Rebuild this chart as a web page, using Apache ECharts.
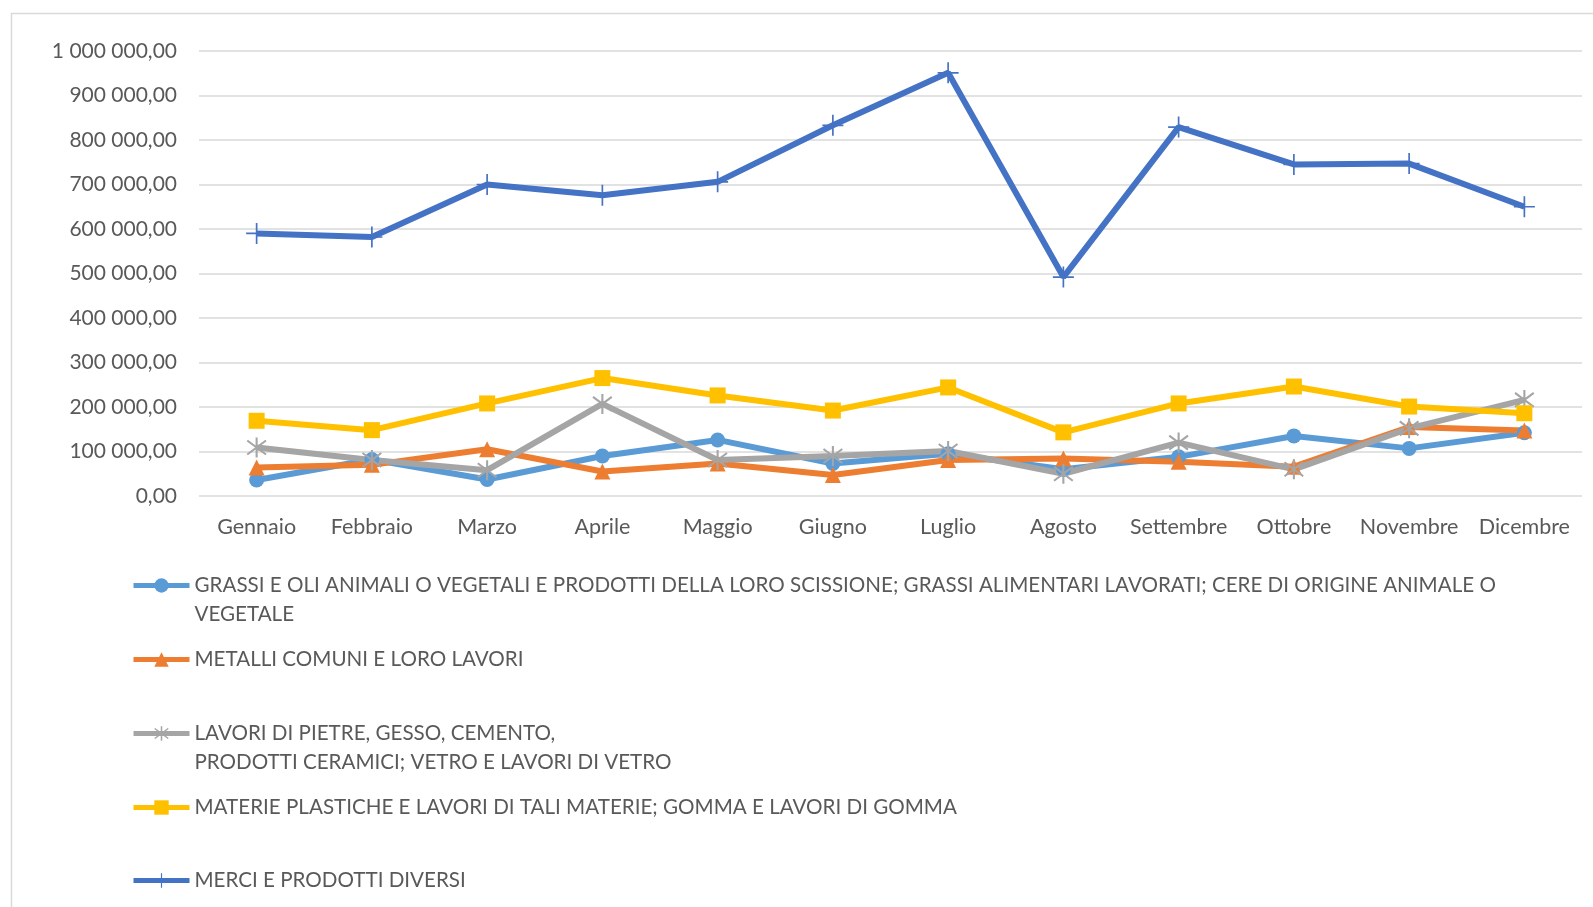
<!DOCTYPE html>
<html>
<head>
<meta charset="utf-8">
<script src="https://cdn.jsdelivr.net/npm/echarts@6/dist/echarts.min.js"></script>
<style>
  html, body { margin: 0; padding: 0; background: #fff; }
  #chart { width: 1593px; height: 907px; }
</style>
</head>
<body>
<div id="chart"></div>
<script>
// mesi sull'asse x
const mesi = ["Gennaio", "Febbraio", "Marzo", "Aprile", "Maggio", "Giugno",
  "Luglio", "Agosto", "Settembre", "Ottobre", "Novembre", "Dicembre"];

// nomi delle serie (ordine della legenda)
const nomeGrassi = "GRASSI E OLI ANIMALI O VEGETALI E PRODOTTI DELLA LORO SCISSIONE; GRASSI ALIMENTARI LAVORATI; CERE DI ORIGINE ANIMALE O VEGETALE";
const nomeMetalli = "METALLI COMUNI E LORO LAVORI";
const nomePietre = "LAVORI DI PIETRE, GESSO, CEMENTO, PRODOTTI CERAMICI; VETRO E LAVORI DI VETRO";
const nomePlastiche = "MATERIE PLASTICHE E LAVORI DI TALI MATERIE; GOMMA E LAVORI DI GOMMA";
const nomeMerci = "MERCI E PRODOTTI DIVERSI";

// valori
const grassi = [36000, 82000, 37000, 90000, 126000, 73000, 95000, 60000, 88000, 135000, 107000, 142000];
const metalli = [64000, 70000, 105000, 55000, 73000, 47000, 81000, 84000, 77000, 66000, 155000, 147000];
const pietre = [109000, 81000, 58000, 207000, 81000, 90000, 101000, 50000, 120000, 60000, 152000, 216000];
const plastiche = [169000, 148000, 208000, 265000, 226000, 192000, 244000, 143000, 208000, 246000, 201000, 186000];
const merci = [590000, 582000, 700000, 676000, 706000, 833000, 951000, 492000, 829000, 745000, 747000, 650000];

// tacche asse y
const yMin = 0;
const yMax = 1000000;
const yStep = 100000;

const font = "Lato";
const grigioTesto = "#595959";

// simboli stile Excel
const simboloStella = "path://M9,0 L11,0 L11,20 L9,20 Z " +
  "M1.6,2.2 L19.6,16.2 L18.4,17.8 L0.4,3.8 Z " +
  "M0.4,16.2 L18.4,2.2 L19.6,3.8 L1.6,17.8 Z";
const simboloPiu = "path://M9.2,0 L10.8,0 L10.8,9.2 L20,9.2 L20,10.8 L10.8,10.8 L10.8,20 L9.2,20 L9.2,10.8 L0,10.8 L0,9.2 L9.2,9.2 Z";

/**
 * formatta un numero come "1 000 000,00"
 */
function formatNumero(v) {
  const intero = Math.round(v).toString().replace(/\B(?=(\d{3})+(?!\d))/g, " ");
  return intero + ",00";
}

// testo della legenda con gli a capo come nell'originale
// (riga vuota iniziale: così il simbolo resta allineato alla prima riga)
function testoLegenda(name) {
  if (name === nomeGrassi) {
    return "\nGRASSI E OLI ANIMALI O VEGETALI E PRODOTTI DELLA LORO SCISSIONE; GRASSI ALIMENTARI LAVORATI; CERE DI ORIGINE ANIMALE O\nVEGETALE";
  }
  if (name === nomePietre) {
    return "\nLAVORI DI PIETRE, GESSO, CEMENTO,\nPRODOTTI CERAMICI; VETRO E LAVORI DI VETRO";
  }
  return name;
}

function serie(name, data, color, symbol, size) {
  return {
    name: name,
    type: "line",
    data: data,
    symbol: symbol,
    symbolSize: size,
    showAllSymbol: true,
    lineStyle: { color: color, width: 6 },
    itemStyle: { color: color },
    emphasis: { disabled: true },
    animation: false
  };
}

// una legenda per voce, per avere le spaziature dell'originale
function legenda(name, top) {
  return {
    data: [name],
    left: 131,
    top: top,
    orient: "vertical",
    itemWidth: 56,
    itemHeight: 18,
    itemGap: 0,
    padding: 0,
    selectedMode: false,
    formatter: testoLegenda,
    lineStyle: { width: 5 },
    textStyle: {
      fontFamily: font,
      fontSize: 20.6,
      color: grigioTesto,
      lineHeight: 29
    }
  };
}

const chart = echarts.init(document.getElementById("chart"));
chart.setOption({
  backgroundColor: "#ffffff",
  animation: false,
  graphic: [{
    type: "rect",
    left: 9,
    top: 11,
    shape: { width: 1700, height: 1000 },
    style: { fill: "none", stroke: "#D9D9D9", lineWidth: 1.5 },
    silent: true
  }],
  grid: { left: 199, right: 11, top: 51, bottom: 411, containLabel: false },
  legend: [
    legenda(nomeGrassi, 542),
    legenda(nomeMetalli, 645),
    legenda(nomePietre, 690),
    legenda(nomePlastiche, 793),
    legenda(nomeMerci, 866)
  ],
  xAxis: {
    type: "category",
    data: mesi,
    boundaryGap: true,
    axisLine: { show: false },
    axisTick: { show: false },
    axisLabel: { fontFamily: font, fontSize: 21.5, color: grigioTesto, margin: 20, interval: 0 }
  },
  yAxis: {
    type: "value",
    min: yMin,
    max: yMax,
    interval: yStep,
    axisLine: { show: false },
    axisTick: { show: false },
    splitLine: { lineStyle: { color: "#D9D9D9", width: 1.5 } },
    axisLabel: { fontFamily: font, fontSize: 21, color: grigioTesto, margin: 22, formatter: formatNumero }
  },
  series: [
    serie(nomeGrassi, grassi, "#5B9BD5", "circle", 15),
    serie(nomeMetalli, metalli, "#ED7D31", "triangle", 16),
    serie(nomePietre, pietre, "#A5A5A5", simboloStella, 20),
    serie(nomePlastiche, plastiche, "#FFC000", "rect", 16),
    serie(nomeMerci, merci, "#4472C4", simboloPiu, 21)
  ]
});
</script>
</body>
</html>
